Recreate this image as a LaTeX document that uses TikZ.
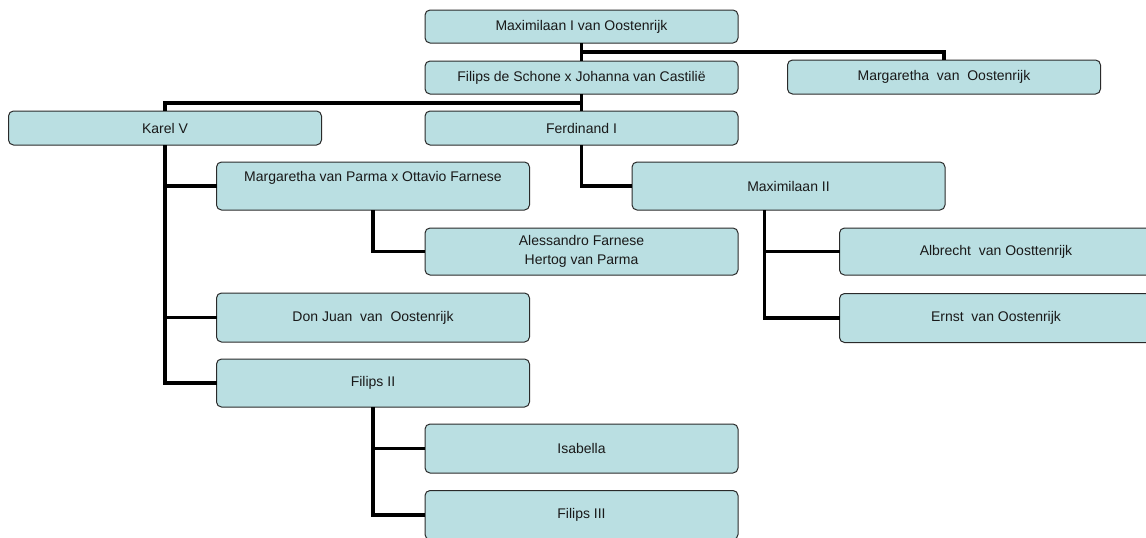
\documentclass[tikz,border=0pt]{standalone}
\usepackage{fontspec}
\setmainfont{Liberation Sans}
\definecolor{boxfill}{HTML}{BADFE2}
\definecolor{boxline}{HTML}{2A2A2A}
\tikzset{
  person/.style={draw=boxline, line width=1pt, fill=boxfill, rounded corners=5pt,
    inner sep=0pt, outer sep=0pt, align=center, text=black!90, font=\fontsize{14}{19}\selectfont},
  wide/.style={minimum width=313pt},
  link/.style={line width=3.8pt, black, line join=miter}
}
\begin{document}
\begin{tikzpicture}[x=1pt,y=-1pt]
\useasboundingbox (0,0) rectangle (1146,538);
\clip (0,0) rectangle (1146,538);
% nodes
\node[person, wide, minimum height=33pt] (mx1) at (581.5,26.5) {Maximilaan I van Oostenrijk};
\node[person, wide, minimum height=33pt] (fs) at (581.5,77.5) {Filips de Schone x Johanna van Castilië};
\node[person, wide, minimum height=34pt] (mo) at (944,77) {Margaretha\ \ van\ \ Oostenrijk};
\node[person, wide, minimum height=34pt] (k5) at (165,128) {Karel V};
\node[person, wide, minimum height=34pt] (f1) at (581.5,128) {Ferdinand I};
\node[person, wide, minimum height=48pt, text depth=20pt] (mp) at (373,186) {Margaretha van Parma x Ottavio Farnese};
\node[person, wide, minimum height=48pt] (m2) at (788.5,186) {Maximilaan II};
\node[person, wide, minimum height=47pt] (al) at (581.5,251.5) {Alessandro Farnese\\Hertog van Parma};
\node[person, wide, minimum height=47pt] (ab) at (996,251.5) {Albrecht\ \ van Oosttenrijk};
\node[person, wide, minimum height=49pt] (er) at (996,318) {Ernst\ \ van Oostenrijk};
\node[person, wide, minimum height=49pt] (dj) at (373,317.5) {Don Juan\ \ van\ \ Oostenrijk};
\node[person, wide, minimum height=48pt] (f2) at (373,383) {Filips II};
\node[person, wide, minimum height=49pt] (is) at (581.5,448.5) {Isabella};
\node[person, wide, minimum height=49pt] (f3) at (581.5,515) {Filips III};
% connectors
\coordinate (j1) at (581.5,52);
\coordinate (j2) at (581.5,103);
\coordinate (j3) at (764.5,210);
\draw[link] (mx1.south) -- (fs.north);
\draw[link] (j1) -| (mo.north);
\draw[link] (fs.south) -- (f1.north);
\draw[link] (j2) -| (k5.north);
\draw[link] (k5.south) |- (mp.west);
\draw[link] (k5.south) |- (dj.west);
\draw[link] (k5.south) |- (f2.west);
\draw[link] (mp.south) |- (al.west);
\draw[link] (f2.south) |- (is.west);
\draw[link] (f2.south) |- (f3.west);
\draw[link] (f1.south) |- (m2.west);
\draw[link] (j3) |- (ab.west);
\draw[link] (j3) |- (er.west);
\end{tikzpicture}
\end{document}
